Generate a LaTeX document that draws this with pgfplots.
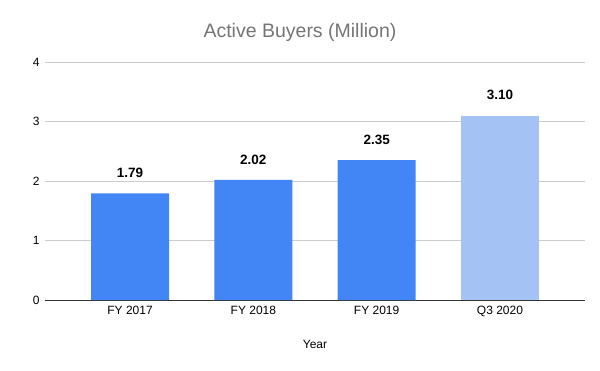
\documentclass[border=0pt]{standalone}
\usepackage{pgfplots}
\pgfplotsset{compat=1.18}
\usepackage{fontspec}
\setmainfont{Liberation Sans}
\definecolor{barblue}{HTML}{4285F4}
\definecolor{barlight}{HTML}{A4C2F4}
\definecolor{gridc}{HTML}{CCCCCC}
\definecolor{titlec}{HTML}{757575}
\definecolor{axisc}{HTML}{333333}
\begin{document}
\begin{tikzpicture}
\fill[white] (0bp,0bp) rectangle (600bp,371bp);
\node[font=\fontsize{19.5bp}{22bp}\selectfont, text=titlec] at (300bp,339bp) {Active Buyers (Million)};
\begin{axis}[
  at={(45bp,71bp)}, anchor=south west,
  scale only axis, width=540bp, height=238bp,
  xmin=-0.69, xmax=3.69, ymin=0, ymax=4,
  axis x line*=bottom, axis y line*=left,
  x axis line style={axisc, line width=1bp, -},
  y axis line style={draw=none},
  ymajorgrids, grid style={gridc, line width=0.75bp},
  ytick={0,1,2,3,4},
  xtick={0,1,2,3},
  xticklabels={FY 2017,FY 2018,FY 2019,Q3 2020},
  major tick length=0pt,
  tick label style={font=\fontsize{12bp}{14bp}\selectfont, text=black},
  yticklabel style={xshift=-2bp},
  xticklabel style={yshift=-3bp},
  xlabel={Year},
  xlabel style={font=\fontsize{12bp}{14bp}\selectfont, yshift=-16bp},
  /pgf/number format/assume math mode=true,
  ybar, bar width=78bp, bar shift=0pt,
  nodes near coords,
  nodes near coords style={font=\bfseries\fontsize{13.5bp}{15bp}\selectfont, text=black, yshift=12bp, /pgf/number format/fixed, /pgf/number format/fixed zerofill, /pgf/number format/precision=2, /pgf/number format/assume math mode=true},
  clip=false,
]
\addplot[fill=barblue, draw=none] coordinates {(0,1.79) (1,2.02) (2,2.35)};
\addplot[fill=barlight, draw=none] coordinates {(3,3.10)};
\end{axis}
\pgfresetboundingbox
\useasboundingbox (0bp,0bp) rectangle (600bp,371bp);
\end{tikzpicture}
\end{document}
